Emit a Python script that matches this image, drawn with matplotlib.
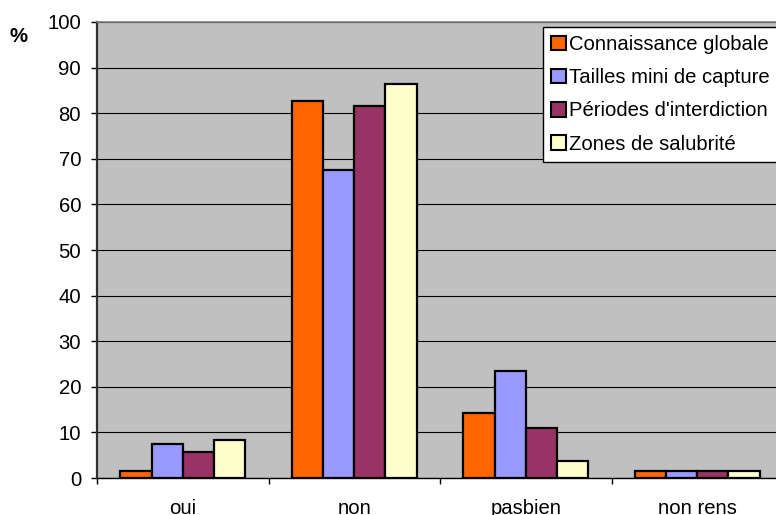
import matplotlib
matplotlib.use("Agg")
import matplotlib.pyplot as plt
from matplotlib.patches import Patch
import numpy as np

plt.rcParams['font.family'] = ['Liberation Sans', 'DejaVu Sans']
FS = 14.6

categories = ["oui", "non", "pasbien", "non rens"]
series_names = ["Connaissance globale", "Tailles mini de capture",
                "Périodes d'interdiction", "Zones de salubrité"]
connaissance = [1.6, 82.7, 14.2, 1.6]
tailles = [7.4, 67.5, 23.5, 1.6]
periodes = [5.8, 81.6, 10.9, 1.6]
zones = [8.3, 86.4, 3.7, 1.6]
series_values = [connaissance, tailles, periodes, zones]
colors = ["#FF6600", "#9999FF", "#993366", "#FFFFCC"]
y_ticks = list(range(0, 101, 10))

fig = plt.figure(figsize=(7.76, 5.15), dpi=100)
ax = fig.add_axes([97 / 776, 37 / 515, 686 / 776, 456 / 515])
ax.set_facecolor("#C0C0C0")

x = np.arange(len(categories))
width = 0.182
for i, (vals, col) in enumerate(zip(series_values, colors)):
    offset = (i - 1.5) * width
    ax.bar(x + offset, vals, width, color=col, edgecolor="black",
           linewidth=1.6, zorder=3, label=series_names[i])

ax.set_xlim(-0.5, len(categories) - 0.5)
ax.set_ylim(0, 100)
ax.set_yticks(y_ticks)
ax.yaxis.grid(True, color="black", linewidth=0.8, zorder=1)
ax.set_axisbelow(True)

ax.set_xticks(x)
ax.set_xticklabels(categories)
ax.set_xticks(np.arange(-0.5, len(categories), 1.0), minor=True)
ax.tick_params(axis="x", which="major", length=0, pad=15, labelsize=FS)
ax.tick_params(axis="x", which="minor", length=4, width=1, color="black")
ax.tick_params(axis="y", length=4.5, width=1, pad=7, labelsize=FS)

for side in ["top", "right"]:
    ax.spines[side].set_color("#808080")
    ax.spines[side].set_linewidth(1.2)
ax.spines["left"].set_color("#303030")
ax.spines["left"].set_linewidth(1.6)
ax.spines["bottom"].set_color("black")
ax.spines["bottom"].set_linewidth(1)

fig.text(9 / 776, 1 - 36 / 515, "%", fontsize=FS, fontweight="bold",
         ha="left", va="center")

handles = [Patch(facecolor=c, edgecolor="black", linewidth=1.5) for c in colors]
leg = ax.legend(handles, series_names, loc="upper left",
                bbox_to_anchor=(543 / 776, 1 - 27 / 515),
                bbox_transform=fig.transFigure, fontsize=FS,
                handlelength=0.72, handleheight=0.72, handletextpad=0.15,
                labelspacing=0.7, borderpad=0.4, borderaxespad=0,
                frameon=True, fancybox=False, shadow=False)
leg.get_frame().set_edgecolor("black")
leg.get_frame().set_linewidth(1)
leg.get_frame().set_facecolor("white")
leg.get_frame().set_alpha(1)

fig.savefig("out.png", dpi=100)
